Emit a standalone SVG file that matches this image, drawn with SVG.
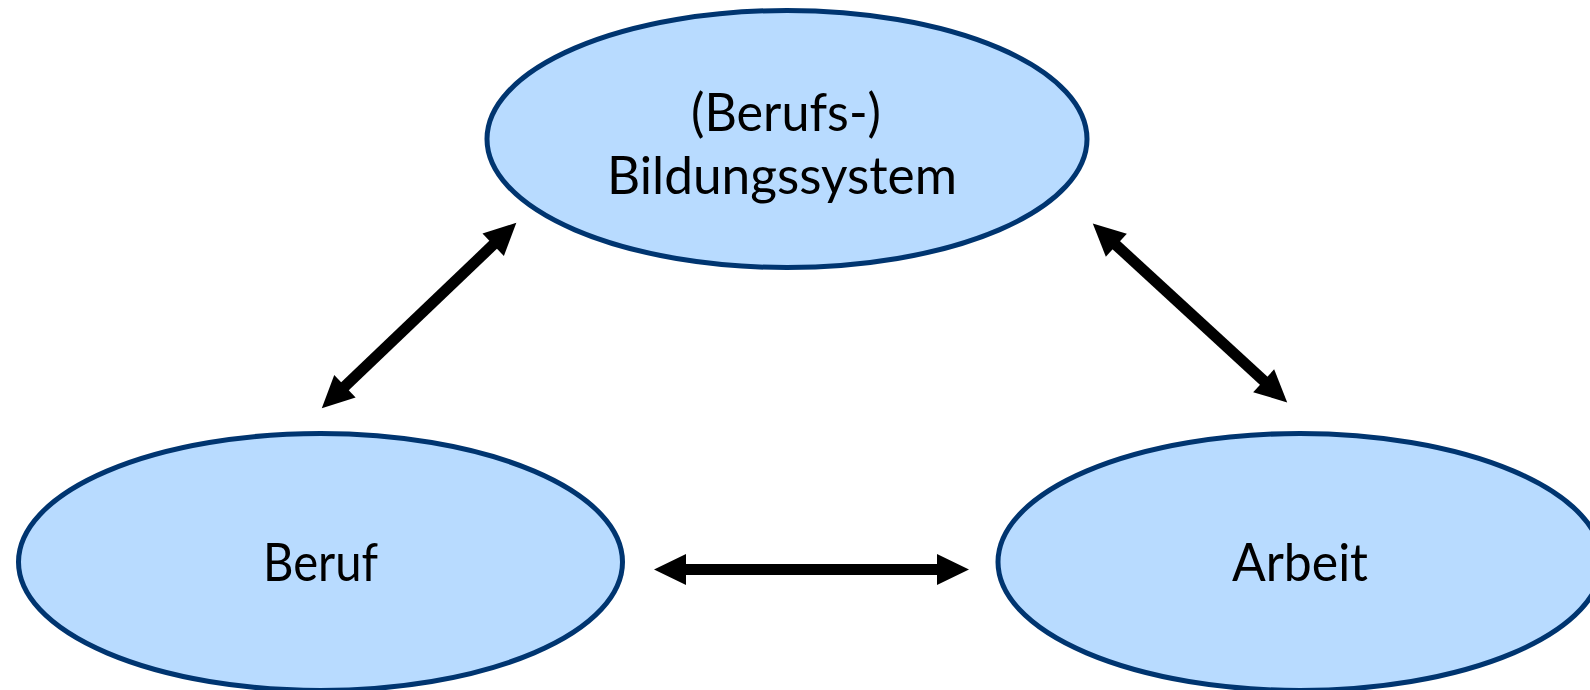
<svg xmlns="http://www.w3.org/2000/svg" width="1590" height="690" viewBox="0 0 1590 690">
<style>
.node ellipse{fill:#b8dbff;stroke:#003570;stroke-width:5}
.node text{font-family:Lato,"Open Sans","Noto Sans",sans-serif;font-size:52px;fill:#000;text-anchor:middle}
.conn line{stroke:#000;stroke-width:11;fill:none;marker-start:url(#ah);marker-end:url(#ah)}
</style>
<defs>
<marker id="ah" markerUnits="userSpaceOnUse" markerWidth="40" markerHeight="40" viewBox="0 -20 40 40" refX="1" refY="0" orient="auto-start-reverse" overflow="visible">
<path d="M0,-15.5 L32,0 L0,15.5 z" fill="#000"/>
</marker>
</defs>
<rect width="1590" height="690" fill="#fff"/>
<g id="bildungssystem" class="node">
<ellipse cx="787" cy="139" rx="300" ry="128.5"/>
<text><tspan x="786" y="131" textLength="190" lengthAdjust="spacingAndGlyphs">(Berufs-)</tspan><tspan x="782" y="194" textLength="350" lengthAdjust="spacingAndGlyphs">Bildungssystem</tspan></text>
</g>
<g id="beruf" class="node">
<ellipse cx="320.5" cy="562" rx="302" ry="128.5"/>
<text x="320.5" y="581" textLength="115" lengthAdjust="spacingAndGlyphs">Beruf</text>
</g>
<g id="arbeit" class="node">
<ellipse cx="1300" cy="562" rx="302" ry="128.5"/>
<text x="1300" y="581" textLength="136" lengthAdjust="spacingAndGlyphs">Arbeit</text>
</g>
<g id="connectors" class="conn">
<line x1="344.2" y1="386.9" x2="493.9" y2="244.1"/>
<line x1="1115.6" y1="244.6" x2="1264.4" y2="381.4"/>
<line x1="685" y1="569.5" x2="938" y2="569.5"/>
</g>
</svg>
